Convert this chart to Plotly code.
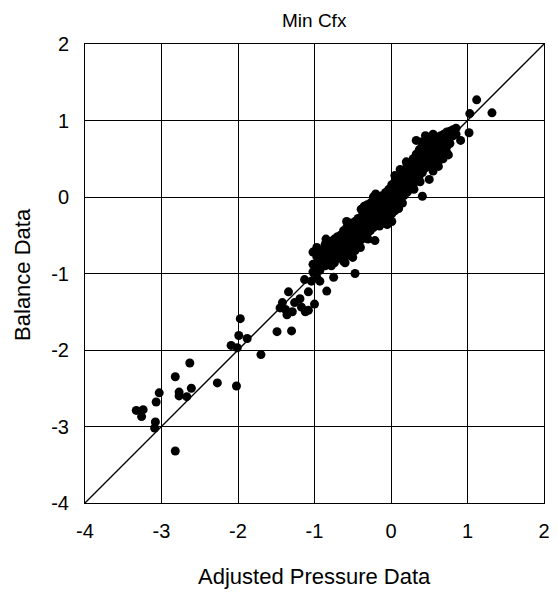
import plotly.graph_objects as go

# scattered points away from the main band (adjusted pressure, balance)
outlier_pts = [
    (1.12, 1.27), (1.32, 1.10), (1.03, 1.09), (1.02, 0.84), (0.91, 0.74),
    (0.41, 0.01), (0.50, 0.23), (-0.21, -0.57), (-0.47, -1.00), (-0.50, -0.79),
    (-0.75, -1.05), (-0.84, -1.23), (-1.00, -1.40), (-1.13, -1.08), (-1.12, -1.50),
    (-1.30, -1.75), (-1.49, -1.76), (-1.38, -1.47), (-1.34, -1.24), (-1.42, -1.38),
    (-1.26, -1.38), (-1.19, -1.33), (-1.17, -1.44), (-1.29, -1.50), (-1.08, -1.48),
    (-1.45, -1.45), (-1.36, -1.54), (-1.04, -1.10), (-1.08, -1.24),
    (-1.97, -1.59), (-1.99, -1.81), (-1.88, -1.85), (-2.09, -1.94), (-2.01, -1.97),
    (-1.70, -2.06), (-2.02, -2.47), (-2.27, -2.43), (-2.63, -2.17), (-2.82, -2.35),
    (-2.77, -2.55), (-2.77, -2.60), (-2.67, -2.61), (-2.61, -2.50), (-3.03, -2.56),
    (-3.07, -2.68), (-3.08, -2.94), (-3.09, -3.02), (-3.33, -2.79), (-3.24, -2.78),
    (-3.26, -2.87), (-2.82, -3.32),
]

# points on the ragged edges of the band
edge_pts = [
    (0.55, 0.34), (0.62, 0.40), (0.68, 0.50), (0.38, 0.20), (0.30, 0.10),
    (0.15, -0.08), (-0.05, -0.36), (0.10, -0.15), (-0.30, -0.55), (-0.60, -0.86),
    (-0.58, -0.32), (-0.85, -0.55), (0.05, 0.28), (0.12, 0.36), (0.20, 0.46),
    (0.55, 0.82), (0.40, 0.72), (-0.20, 0.04), (0.75, 0.55), (-0.40, -0.66),
]

# dense band along the diagonal: one pressure value with several balance values
band_cols = [
    (-1.02, [-0.72, -0.88, -0.98]),
    (-0.97, [-0.66, -0.78, -0.92, -1.05]),
    (-0.93, [-0.70, -0.84, -0.96, -1.10]),
    (-0.90, [-0.74, -0.88]),
    (-0.86, [-0.62, -0.72, -0.80, -0.90]),
    (-0.82, [-0.60, -0.68, -0.78, -0.86]),
    (-0.78, [-0.58, -0.66, -0.74, -0.82, -0.90]),
    (-0.74, [-0.55, -0.62, -0.70, -0.78, -0.86]),
    (-0.70, [-0.52, -0.60, -0.68, -0.74, -0.80]),
    (-0.66, [-0.50, -0.58, -0.64, -0.72, -0.78]),
    (-0.62, [-0.44, -0.52, -0.60, -0.66, -0.74, -0.84]),
    (-0.58, [-0.40, -0.48, -0.55, -0.62, -0.70]),
    (-0.55, [-0.34, -0.42, -0.50, -0.58, -0.66, -0.76]),
    (-0.51, [-0.36, -0.44, -0.52, -0.58, -0.64]),
    (-0.47, [-0.32, -0.40, -0.48, -0.54, -0.62, -0.70]),
    (-0.43, [-0.28, -0.36, -0.44, -0.50, -0.58]),
    (-0.39, [-0.16, -0.26, -0.34, -0.42, -0.48, -0.56]),
    (-0.35, [-0.12, -0.20, -0.28, -0.36, -0.44, -0.52]),
    (-0.31, [-0.10, -0.18, -0.26, -0.34, -0.40, -0.48]),
    (-0.27, [-0.08, -0.16, -0.24, -0.30, -0.38, -0.44]),
    (-0.23, [0.00, -0.10, -0.18, -0.26, -0.32, -0.40]),
    (-0.19, [-0.04, -0.12, -0.20, -0.28, -0.36]),
    (-0.15, [-0.02, -0.10, -0.16, -0.24, -0.30, -0.38]),
    (-0.11, [0.02, -0.06, -0.14, -0.20, -0.28, -0.34]),
    (-0.07, [0.06, -0.02, -0.10, -0.16, -0.24, -0.30]),
    (-0.03, [0.10, 0.02, -0.06, -0.12, -0.20, -0.28]),
    (0.01, [0.16, 0.08, 0.00, -0.06, -0.14, -0.22, -0.32]),
    (0.05, [0.20, 0.12, 0.04, -0.02, -0.10, -0.18]),
    (0.09, [0.22, 0.14, 0.06, 0.00, -0.08]),
    (0.13, [0.30, 0.22, 0.14, 0.06, -0.02]),
    (0.17, [0.34, 0.26, 0.18, 0.10, 0.02]),
    (0.21, [0.42, 0.30, 0.22, 0.14, 0.06]),
    (0.25, [0.44, 0.34, 0.26, 0.18, 0.10]),
    (0.29, [0.50, 0.40, 0.32, 0.24, 0.16]),
    (0.33, [0.74, 0.56, 0.46, 0.38, 0.30, 0.22]),
    (0.37, [0.62, 0.52, 0.44, 0.36, 0.28]),
    (0.41, [0.66, 0.56, 0.48, 0.40, 0.32]),
    (0.45, [0.80, 0.70, 0.62, 0.54, 0.46, 0.38]),
    (0.49, [0.72, 0.62, 0.52, 0.44]),
    (0.53, [0.74, 0.64, 0.56, 0.48, 0.40]),
    (0.57, [0.76, 0.66, 0.58, 0.50]),
    (0.61, [0.78, 0.68, 0.60, 0.52, 0.44]),
    (0.65, [0.80, 0.70, 0.62, 0.54]),
    (0.69, [0.82, 0.72, 0.64]),
    (0.73, [0.85, 0.76, 0.66, 0.58]),
    (0.77, [0.86, 0.78, 0.70]),
    (0.81, [0.88, 0.80]),
    (0.85, [0.90, 0.82]),
]

axis_ticks = [-4, -3, -2, -1, 0, 1, 2]
tick_text = ['-4', '-3', '-2', '-1', '0', '1', '2']

xs = [p[0] for p in outlier_pts + edge_pts]
ys = [p[1] for p in outlier_pts + edge_pts]
for bx, bys in band_cols:
    for by in bys:
        xs.append(bx)
        ys.append(by)

fig = go.Figure()
# 1:1 reference line
fig.add_trace(go.Scatter(x=[axis_ticks[0], axis_ticks[-1]], y=[axis_ticks[0], axis_ticks[-1]],
                         mode='lines', line=dict(color='black', width=1.3), hoverinfo='skip'))
fig.add_trace(go.Scatter(x=xs, y=ys, mode='markers',
                         marker=dict(color='black', size=9, line=dict(width=0))))

axis_style = dict(range=[-4, 2], tickvals=axis_ticks, ticktext=tick_text, showgrid=True,
                  gridcolor='black', gridwidth=1, zeroline=False, showline=True,
                  linecolor='black', linewidth=1, mirror=True, automargin=False,
                  ticks='outside', tickcolor='white',
                  tickfont=dict(size=20, color='black'))

# page body has an 8px margin, so the figure is 8px smaller than the window
fig.update_layout(
    width=549, height=586,
    margin=dict(l=77, r=13, t=36, b=91),
    paper_bgcolor='white', plot_bgcolor='white',
    font=dict(family='Liberation Sans, Arial', color='black'),
    showlegend=False,
    xaxis=dict(axis_style, ticklen=10),
    yaxis=dict(axis_style, ticklen=11),
    annotations=[
        dict(text='Min Cfx', x=0.5, y=1.052, xref='paper', yref='paper',
             showarrow=False, font=dict(size=19), xanchor='center', yanchor='middle'),
        dict(text='Adjusted Pressure Data', x=0.5, y=-0.161, xref='paper', yref='paper',
             showarrow=False, font=dict(size=22), xanchor='center', yanchor='middle'),
        dict(text='Balance Data', x=-0.135, y=0.497, xref='paper', yref='paper', textangle=-90,
             showarrow=False, font=dict(size=22), xanchor='center', yanchor='middle'),
    ],
)

fig.write_html("out.html")
